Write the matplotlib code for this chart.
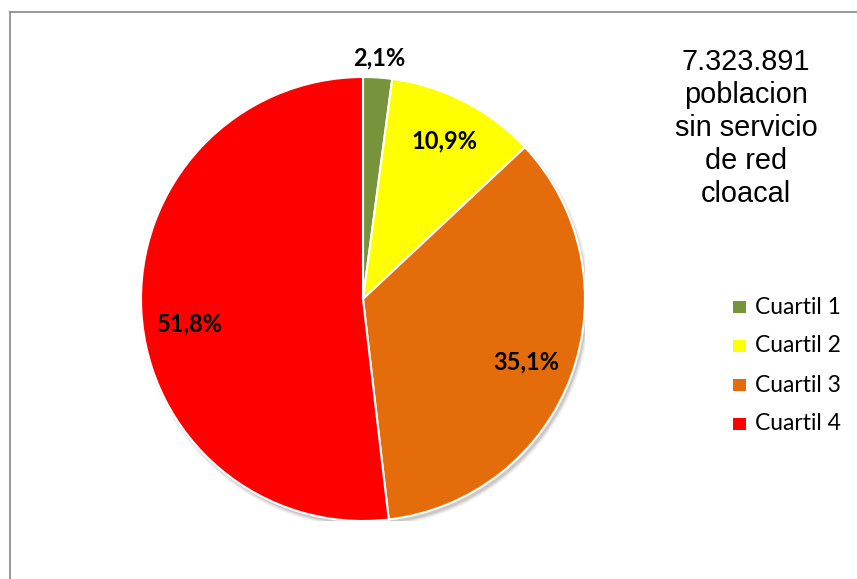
import matplotlib
matplotlib.use("Agg")
import matplotlib.pyplot as plt
from matplotlib.lines import Line2D
from matplotlib.patches import Circle, Rectangle
import numpy as np

# Share of population without sewer service, by quartile
categories = ["Cuartil 1", "Cuartil 2", "Cuartil 3", "Cuartil 4"]
shares = [2.1, 10.9, 35.1, 51.8]
share_labels = ["2,1%", "10,9%", "35,1%", "51,8%"]
colors = ["#77933C", "#FFFF00", "#E46C0A", "#FF0000"]
title_text = "7.323.891\npoblacion\nsin servicio\nde red\ncloacal"

W, H = 857, 579
fig = plt.figure(figsize=(W / 100, H / 100), dpi=100)
fig.patch.set_facecolor("white")

# pie axes: centre (363, 299) px, radius 222 px
cx, cy, r = 363, 299, 222
ax = fig.add_axes([(cx - r) / W, (H - cy - r) / H, 2 * r / W, 2 * r / H])

# soft drop shadow beneath the pie
for k, a in enumerate([0.05, 0.07, 0.10]):
    ax.add_patch(Circle((0.010, -0.016), 1.0 + 0.006 * (2 - k), color="black",
                        alpha=a, zorder=0, lw=0))

wedges, _ = ax.pie(shares, colors=colors, startangle=90, counterclock=False,
                   radius=1.0, wedgeprops=dict(edgecolor="white", linewidth=1.5),
                   normalize=True)
for w in wedges:
    w.set_zorder(2)

ax.set_xlim(-1, 1)
ax.set_ylim(-1, 1)
ax.set_aspect("equal")
ax.axis("off")

# percentage labels placed around each wedge's mid angle
label_radius = [1.09, 0.80, 0.79, 0.79]
label_turn = [0.0, 0.0, -1.0, 5.0]
cum = np.cumsum([0] + shares)
total = sum(shares)
for i, lab in enumerate(share_labels):
    mid = 90 - (cum[i] + shares[i] / 2) / total * 360 + label_turn[i]
    th = np.deg2rad(mid)
    ax.text(label_radius[i] * np.cos(th), label_radius[i] * np.sin(th), lab,
            ha="center", va="center", fontsize=17, fontweight="bold",
            family="Lato", color="black", zorder=3, clip_on=False)

# side annotation
fig.text(746 / W, 1 - 128 / H, title_text, ha="center", va="center",
         fontsize=20.8, family="Liberation Sans", linespacing=1.23)

# legend
leg_y = [307, 346, 385, 424]
for name, c, y in zip(categories, colors, leg_y):
    fig.add_artist(Rectangle((733 / W, 1 - (y + 6) / H), 13 / W, 12 / H,
                             transform=fig.transFigure, color=c, lw=0))
    fig.text(755 / W, 1 - y / H, name, ha="left", va="center",
             fontsize=16.5, family="Lato", color="black")

# chart frame (top and left edges)
frame_c = "#888888"
fig.add_artist(Line2D([9.5 / W, 1.0], [1 - 11.5 / H, 1 - 11.5 / H],
                      transform=fig.transFigure, color=frame_c, lw=1.2))
fig.add_artist(Line2D([9.5 / W, 9.5 / W], [0.0, 1 - 11.5 / H],
                      transform=fig.transFigure, color=frame_c, lw=1.2))

fig.savefig("out.png", dpi=100, facecolor="white")
